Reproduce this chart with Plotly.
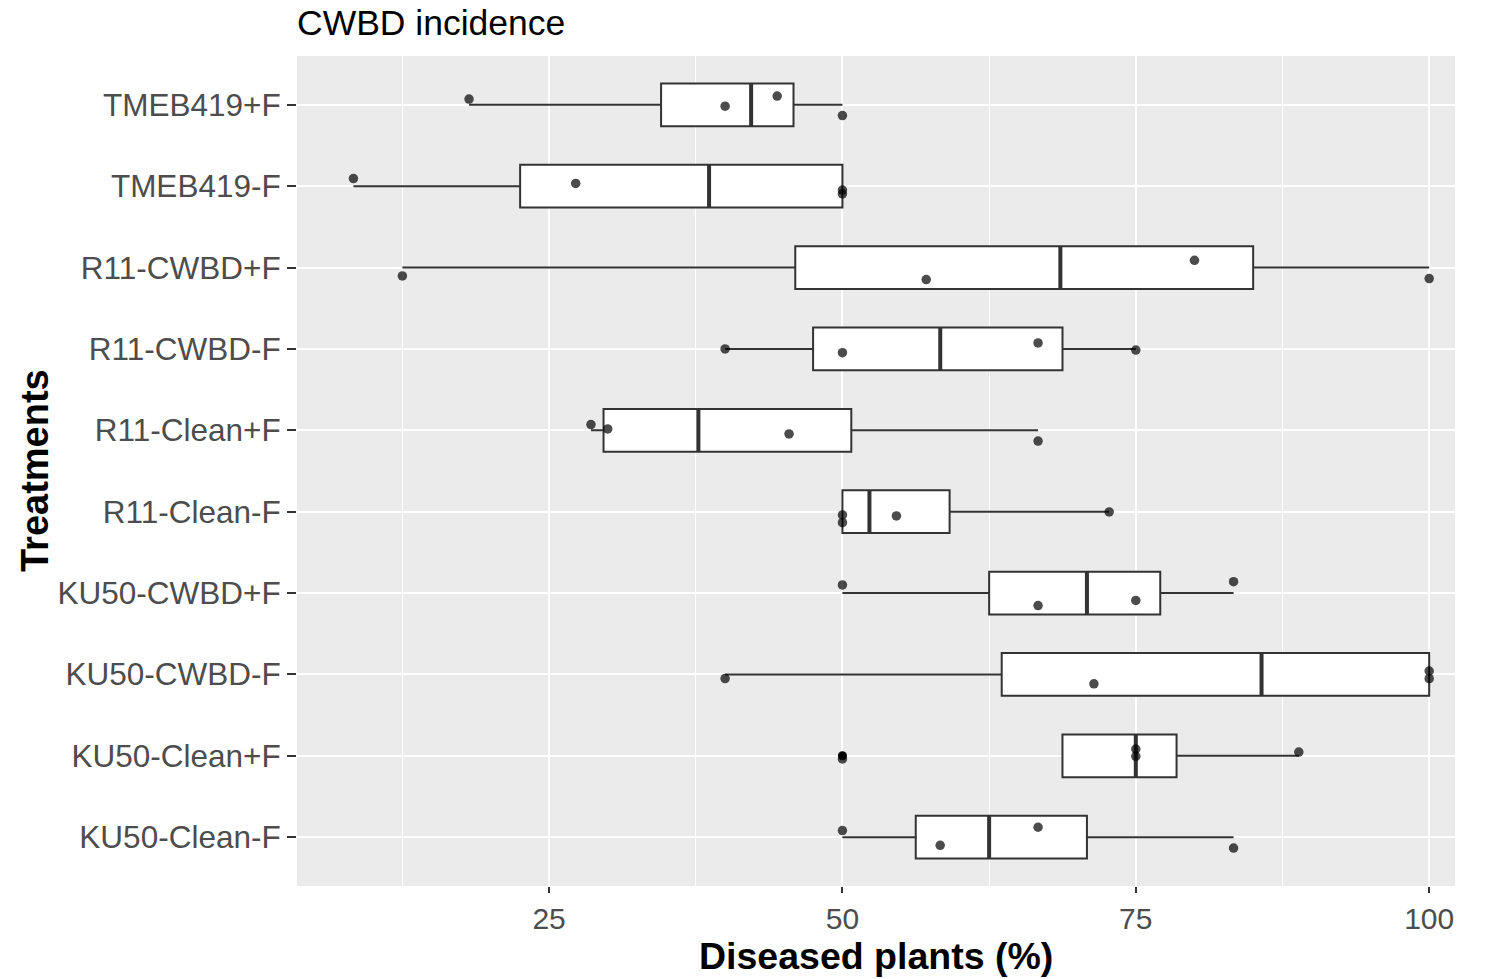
import numpy as np
import plotly.graph_objects as go

# ---- data (top-to-bottom display order) ----
treatments = ["TMEB419+F", "TMEB419-F", "R11-CWBD+F", "R11-CWBD-F", "R11-Clean+F",
              "R11-Clean-F", "KU50-CWBD+F", "KU50-CWBD-F", "KU50-Clean+F", "KU50-Clean-F"]

tmeb419_pf = [18.18, 40.0, 44.44, 50.0]
tmeb419_mf = [8.33, 27.27, 50.0, 50.0]
r11_cwbd_pf = [12.5, 57.14, 80.0, 100.0]
r11_cwbd_mf = [40.0, 50.0, 66.67, 75.0]
r11_clean_pf = [28.57, 30.0, 45.45, 66.67]
r11_clean_mf = [50.0, 50.0, 54.6, 72.73]
ku50_cwbd_pf = [50.0, 66.67, 75.0, 83.33]
ku50_cwbd_mf = [40.0, 71.43, 100.0, 100.0]
ku50_clean_pf = [50.0, 75.0, 75.0, 88.89]
ku50_clean_mf = [50.0, 58.33, 66.67, 83.33]

values = [tmeb419_pf, tmeb419_mf, r11_cwbd_pf, r11_cwbd_mf, r11_clean_pf,
          r11_clean_mf, ku50_cwbd_pf, ku50_cwbd_mf, ku50_clean_pf, ku50_clean_mf]

x_ticks = [25, 50, 75, 100]
x_minor = [12.5, 37.5, 62.5, 87.5]

# ---- ggplot-style (type 7) box statistics ----
q1s, meds, q3s, lfs, ufs = [], [], [], [], []
out_x, out_y = [], []
for cat, v in zip(treatments, values):
    a = np.array(v, dtype=float)
    q1, med, q3 = np.percentile(a, [25, 50, 75])
    iqr = q3 - q1
    lo, hi = q1 - 1.5 * iqr, q3 + 1.5 * iqr
    inside = a[(a >= lo) & (a <= hi)]
    lf = min(inside.min(), q1)
    uf = max(inside.max(), q3)
    q1s.append(q1); meds.append(med); q3s.append(q3); lfs.append(lf); ufs.append(uf)
    for val in a[(a < lo) | (a > hi)]:
        out_x.append(val); out_y.append(cat)

all_x = [x for v in values for x in v]
all_y = [c for c, v in zip(treatments, values) for _ in v]

LINE = "#333333"
FONT = "Liberation Sans, Arial, sans-serif"

fig = go.Figure()
fig.add_trace(go.Box(
    y=treatments, q1=q1s, median=meds, q3=q3s, lowerfence=lfs, upperfence=ufs,
    orientation="h", fillcolor="white", line=dict(color=LINE, width=2),
    whiskerwidth=0, boxpoints=False, showlegend=False, hoverinfo="skip"))
# thicker median line
fig.add_trace(go.Box(
    y=treatments, q1=meds, median=meds, q3=meds, lowerfence=meds, upperfence=meds,
    orientation="h", fillcolor="rgba(0,0,0,0)", line=dict(color=LINE, width=4),
    whiskerwidth=0, boxpoints=False, showlegend=False, hoverinfo="skip"))
# outliers (geom_boxplot)
fig.add_trace(go.Scatter(
    x=out_x, y=out_y, mode="markers",
    marker=dict(color="black", size=9), showlegend=False, hoverinfo="skip"))
# jittered points
fig.add_trace(go.Box(
    x=all_x, y=all_y, orientation="h", boxpoints="all", jitter=0.6, pointpos=0,
    fillcolor="rgba(0,0,0,0)", line=dict(color="rgba(0,0,0,0)", width=0),
    marker=dict(color="rgba(0,0,0,0.7)", size=9.5, line=dict(width=0)),
    whiskerwidth=0, showlegend=False, hoverinfo="skip"))

W, H = 1486, 979
fig.update_layout(
    width=W, height=H,
    margin=dict(l=297, r=W - 1455, t=56, b=H - 886),
    paper_bgcolor="white", plot_bgcolor="#EBEBEB",
    boxmode="overlay", boxgap=0.25,
    font=dict(family=FONT, color="#4D4D4D"),
    title=dict(text="CWBD incidence", x=0, xref="paper", xanchor="left",
               y=1 - 23 / H, yref="container", yanchor="middle",
               font=dict(family=FONT, size=35.5, color="black")),
    xaxis=dict(range=[3.52, 102.2], tickmode="array", tickvals=x_ticks,
               ticktext=[str(t) for t in x_ticks],
               showgrid=True, gridcolor="white", gridwidth=2, zeroline=False,
               ticks="outside", ticklen=6, tickwidth=1.5, tickcolor=LINE,
               tickfont=dict(family=FONT, size=30, color="#4D4D4D"),
               minor=dict(tickmode="array", tickvals=x_minor, showgrid=True,
                          gridcolor="white", gridwidth=1, ticks=""),
               showline=False, fixedrange=True),
    yaxis=dict(type="category", categoryorder="array", categoryarray=treatments[::-1],
               range=[-0.6, 9.6], showgrid=True, gridcolor="white", gridwidth=2,
               zeroline=False, ticks="outside", ticklen=9, tickwidth=1.5, tickcolor=LINE,
               tickfont=dict(family=FONT, size=31.5, color="#4D4D4D"),
               showline=False, fixedrange=True),
    annotations=[
        dict(text="<b>Diseased plants (%)</b>", x=0.5, xref="paper", y=0, yref="paper",
             yshift=-70, xanchor="center", yanchor="middle", showarrow=False,
             font=dict(family=FONT, size=37.5, color="black")),
        dict(text="<b>Treatments</b>", x=0, xref="paper", y=0.5, yref="paper",
             xshift=-262, xanchor="center", yanchor="middle", textangle=-90,
             showarrow=False, font=dict(family=FONT, size=38, color="black")),
    ],
)

# remove the page's default 8px body margin so the figure fills the window exactly
fig.write_html("out.html",
               config={"displayModeBar": False},
               post_script="document.body.style.margin='0px';"
                           "document.body.style.overflow='hidden';")
